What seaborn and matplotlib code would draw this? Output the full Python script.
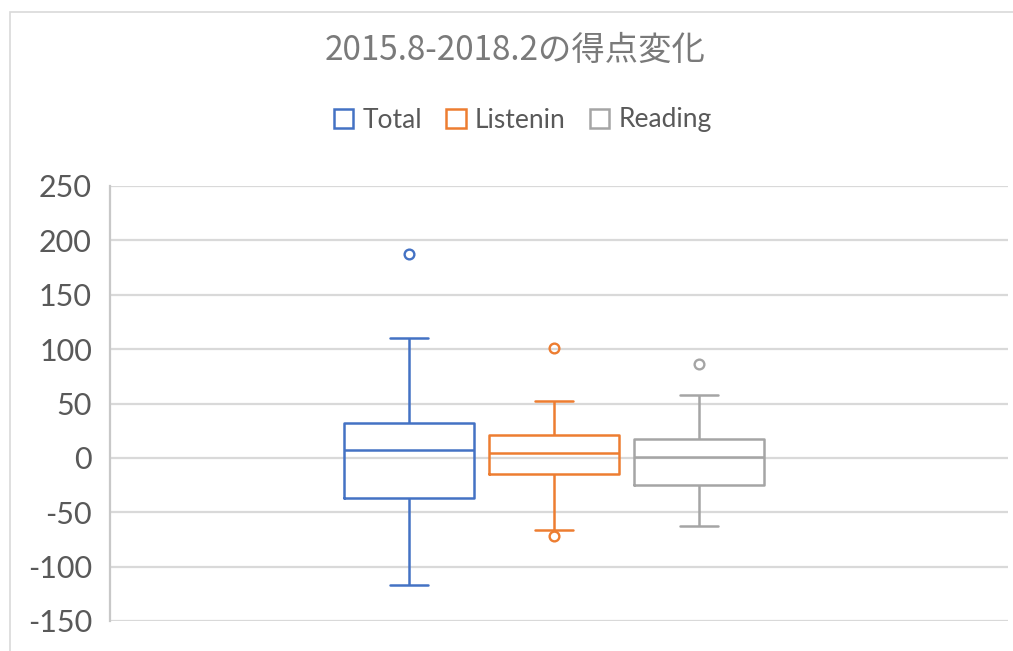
import numpy as np
import pandas as pd
import matplotlib
matplotlib.use("Agg")
import matplotlib.pyplot as plt
from matplotlib.patches import Rectangle
import seaborn as sns

# ---- data ----
series = ["Total", "Listenin", "Reading"]
q1 = [-36.8, -14.7, -25.4]
median = [7.0, 4.3, 1.0]
q3 = [31.7, 21.0, 17.0]
whisker_low = [-117.0, -66.0, -63.0]
whisker_high = [110.0, 52.0, 58.0]
outliers_low = [[], [-71.5], []]
outliers_high = [[187.6], [101.0], [86.0]]
yticks = [-150, -100, -50, 0, 50, 100, 150, 200, 250]
title = "2015.8-2018.2の得点変化"
colors = ["#4472C4", "#ED7D31", "#A5A5A5"]

# build sample sets whose quartiles / whiskers / outliers equal the read values
rows = []
for i, s in enumerate(series):
    low = sorted(outliers_low[i] + [whisker_low[i]])
    while len(low) < 2:
        low.append(q1[i])
    high = sorted([whisker_high[i]] + outliers_high[i])
    while len(high) < 2:
        high.insert(0, q3[i])
    vals = low + [q1[i], median[i], median[i], median[i], q3[i]] + high
    for v in vals:
        rows.append({"cat": "2015.8-2018.2", "series": s, "value": v})
df = pd.DataFrame(rows)

sns.set_theme(style="white")
plt.rcParams["font.family"] = ["Lato", "Noto Sans CJK JP", "DejaVu Sans"]

W, H = 1013, 651
fig = plt.figure(figsize=(W / 100, H / 100), dpi=100)
fig.patch.set_facecolor("white")
ax = fig.add_axes([110 / W, (H - 621) / H, 898 / W, 435 / H])

sns.boxplot(
    data=df, x="cat", y="value", hue="series", hue_order=series,
    palette=colors, fill=False, width=1.0, gap=0.1, whis=1.5,
    linewidth=1.8, ax=ax, capwidths=0.088,
    flierprops=dict(marker="o", markersize=7, markeredgewidth=1.7),
)

ax.set_ylim(-150, 250)
ax.set_yticks(yticks)
ax.set_yticklabels([str(t) for t in yticks], fontsize=22, color="#595959")
ax.set_xlim(-(554 - 110) / 435, (1008 - 554) / 435)
ax.set_xticks([])
ax.set_xlabel("")
ax.set_ylabel("")
ax.tick_params(axis="y", length=0, pad=13)
ax.yaxis.grid(True, color="#d9d9d9", linewidth=1.6)
ax.set_axisbelow(True)
for side in ["top", "right", "bottom"]:
    ax.spines[side].set_visible(False)
ax.spines["left"].set_color("#c8c8c8")
ax.spines["left"].set_linewidth(1.6)

# legend
leg = ax.get_legend()
handles, labels = ax.get_legend_handles_labels()
if leg is not None:
    leg.remove()
for h in handles:
    try:
        h.set_linewidth(1.8)
    except Exception:
        pass
ax.legend(handles, labels, loc="center", bbox_to_anchor=(0.516, 1 - 120 / H),
          bbox_transform=fig.transFigure, ncol=3, frameon=False, fontsize=19,
          handlelength=0.75, handleheight=0.75, handletextpad=0.35,
          columnspacing=0.9, labelcolor="#595959")

fig.text(0.508, 1 - 50 / H, title, ha="center", va="center", fontsize=24,
         color="#7a7a7a", family=["Noto Sans CJK JP", "DejaVu Sans"])

fig.patches.append(Rectangle((10 / W, -0.1), 1.2, (H - 12) / H + 0.1,
                             transform=fig.transFigure, fill=False,
                             edgecolor="#d9d9d9", linewidth=1.2, zorder=0))

fig.savefig("out.png", dpi=100)
